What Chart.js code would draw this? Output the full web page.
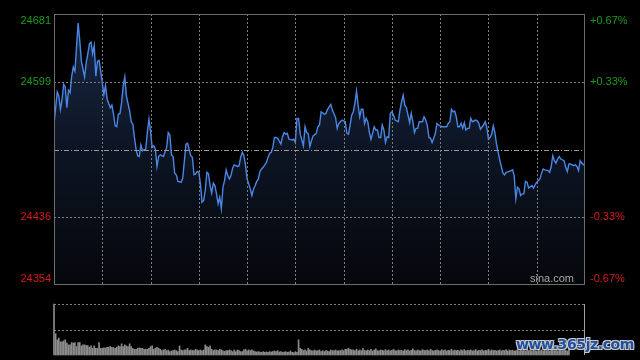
<!DOCTYPE html>
<html lang="zh-CN">
<head>
<meta charset="UTF-8">
<title>恒生指数 分时走势</title>
<style>
  body {
    margin: 0;
    background: #000;
    width: 640px;
    height: 360px;
    overflow: hidden;
    position: relative;
    font-family: Arial, "Liberation Sans", sans-serif;
  }
  #mainChart { position: absolute; left: 0; top: 0; }
  #volChart { position: absolute; left: 0; top: 290px; }
  #mark {
    position: absolute;
    left: 516px;
    top: 336px;
    font: bold 14px "DejaVu Sans", sans-serif;
    color: #1f4f9e;
    letter-spacing: -0.4px;
    white-space: nowrap;
    text-shadow: -1px -1px 0 #c8c8c8, 1px -1px 0 #c8c8c8, -1px 1px 0 #c8c8c8, 1px 1px 0 #c8c8c8;
  }
</style>
<script src="https://cdn.jsdelivr.net/npm/chart.js"></script>
</head>
<body>
<canvas id="mainChart" width="640" height="290"></canvas>
<canvas id="volChart" width="640" height="70"></canvas>
<div id="mark">www.365jz.com</div>

<script>
// minute of the session (0..330) and index level
const minutes = [0,2,3,4,5,6,7,8,9,10,11,12,13,14,15,16,17,19,20,21,22,23,24,25,26,27,28,29,31,32,33,35,36,37,38,39,40,41,42,43,44,45,47,48,49,50,51,52,53,54,55,57,58,59,60,61,62,63,64,65,66,68,70,71,72,73,74,75,76,77,79,80,81,82,83,85,86,87,88,89,90,91,92,93,94,95,96,97,98,99,100,101,102,103,104,105,106,107,108,109,110,111,112,114,115,116,117,118,119,120,122,123,124,125,126,127,128,129,130,132,133,134,135,136,137,138,139,141,142,143,144,145,146,148,149,150,151,152,153,155,156,157,158,159,160,161,163,164,165,166,168,169,170,171,172,173,175,176,177,178,179,181,182,183,184,185,186,187,188,189,190,191,192,193,194,195,196,197,198,199,200,201,202,203,204,205,206,207,208,209,210,211,212,214,215,216,217,218,219,220,221,222,223,224,225,226,227,228,229,230,231,232,233,234,235,236,237,238,239,241,242,244,245,246,247,248,249,250,251,252,253,254,255,256,257,258,259,260,262,263,264,265,267,268,269,270,271,272,273,274,275,276,277,278,279,280,281,283,284,285,286,287,288,289,290,291,292,293,294,295,297,298,299,300,302,303,304,305,307,308,309,310,311,312,313,314,315,317,318,319,320,321,323,324,325,326,327,328,330];
const prices = [24548,24587,24582,24566,24578,24596,24593,24568,24589,24586,24606,24617,24612,24641,24670,24649,24624,24605,24622,24633,24645,24647,24633,24643,24606,24624,24625,24612,24584,24595,24578,24568,24571,24560,24546,24545,24560,24561,24574,24594,24605,24582,24564,24551,24548,24532,24518,24510,24509,24523,24516,24518,24538,24554,24540,24520,24522,24518,24497,24509,24511,24509,24520,24538,24535,24511,24509,24489,24487,24479,24478,24483,24503,24524,24525,24510,24508,24487,24488,24491,24490,24476,24454,24456,24468,24490,24488,24474,24465,24477,24474,24464,24452,24460,24446,24472,24480,24493,24486,24482,24486,24495,24499,24497,24498,24508,24514,24510,24499,24482,24470,24462,24470,24474,24479,24482,24491,24494,24496,24502,24508,24513,24514,24520,24532,24532,24531,24524,24533,24538,24536,24537,24530,24529,24530,24526,24555,24555,24536,24522,24545,24538,24537,24521,24528,24534,24537,24545,24547,24563,24560,24561,24566,24569,24572,24565,24556,24543,24549,24551,24553,24551,24537,24536,24547,24559,24563,24573,24588,24571,24557,24566,24566,24549,24555,24551,24538,24530,24537,24545,24541,24541,24532,24532,24547,24541,24526,24533,24532,24561,24563,24559,24553,24551,24565,24575,24583,24571,24568,24559,24550,24561,24551,24538,24543,24543,24551,24551,24551,24557,24553,24547,24532,24531,24526,24531,24537,24549,24547,24545,24545,24545,24549,24551,24566,24563,24564,24557,24545,24545,24549,24543,24550,24541,24543,24543,24555,24551,24553,24552,24549,24542,24547,24551,24544,24530,24532,24536,24546,24538,24524,24515,24505,24497,24489,24487,24490,24491,24492,24493,24486,24458,24472,24470,24462,24464,24464,24479,24478,24471,24474,24471,24475,24478,24482,24489,24494,24493,24492,24490,24497,24510,24504,24501,24506,24509,24506,24504,24496,24491,24500,24500,24498,24499,24497,24492,24504,24501,24498];

// volume per minute (relative units), minute 0..330
const volume = [151,63,45,50,39,39,42,45,35,30,30,37,35,37,25,37,37,27,30,30,28,28,23,27,20,27,20,20,37,20,20,21,21,23,23,25,23,22,20,23,27,25,33,25,30,27,25,33,25,19,17,17,20,21,20,20,17,17,17,20,25,27,17,20,23,20,17,13,15,17,13,15,10,12,13,15,13,10,27,15,13,15,15,20,13,15,14,13,17,15,13,15,12,15,30,25,23,27,17,13,15,15,13,17,15,12,11,13,13,15,13,10,15,10,15,13,10,10,15,17,12,15,13,15,12,10,9,10,9,8,10,8,9,8,10,9,10,12,10,13,9,10,8,9,10,8,9,12,8,7,10,8,45,20,17,13,15,12,20,15,13,12,15,12,13,15,10,13,10,13,12,10,15,13,13,15,12,13,13,15,13,17,17,20,17,15,
  15,13,17,12,15,13,20,14,12,15,13,17,12,15,18,13,12,15,14,12,16,13,15,12,14,17,13,12,15,13,14,12,16,13,15,12,14,18,13,12,15,13,12,16,14,13,15,12,17,13,12,14,15,13,12,16,13,15,12,14,13,17,12,15,13,14,12,15,13,16,12,14,13,15,12,13,16,12,14,13,15,12,14,13,17,12,15,13,14,12,13,15,12,14,13,16,12,15,13,14,12,13,15,12,14,13,15,12,16,13,14,12,15,13,12,14,13,15,12,14,13,15,12,14,17,13,15,12,14,16,13,15,14,12,18];

const priceTicks = [24681, 24599, 24436, 24354];
const priceLabels = ['24681', '24599', '24436', '24354'];
const pctLabels = ['+0.67%', '+0.33%', '-0.33%', '-0.67%'];
const preClose = 24517.5;
const gridMinutes = [30, 60, 90, 120, 150, 180, 210, 240, 270, 300];

const UP = '#1c9c1c';
const DOWN = '#d61c1c';

function hline(ctx, x1, x2, y) {
  ctx.beginPath(); ctx.moveTo(x1, y); ctx.lineTo(x2, y); ctx.stroke();
}
function vline(ctx, x, y1, y2) {
  ctx.beginPath(); ctx.moveTo(x, y1); ctx.lineTo(x, y2); ctx.stroke();
}

// grid, frame and side labels of the price panel
const mainFrame = {
  id: 'mainFrame',
  afterDatasetsDraw(chart) {
    const { ctx, chartArea: a, scales: { x, y } } = chart;
    ctx.save();
    ctx.lineWidth = 1;
    ctx.strokeStyle = '#808080';
    ctx.setLineDash([2, 2]);
    gridMinutes.forEach(m => {
      const px = Math.round(x.getPixelForValue(m)) + 0.5;
      vline(ctx, px, a.top, a.bottom);
    });
    [priceTicks[1], priceTicks[2]].forEach(v => {
      hline(ctx, a.left, a.right, Math.round(y.getPixelForValue(v)) + 0.5);
    });
    ctx.strokeStyle = '#9a9a9a';
    ctx.setLineDash([5, 2, 1, 2]);
    hline(ctx, a.left, a.right, Math.round(y.getPixelForValue(preClose)) + 0.5);

    ctx.setLineDash([]);
    ctx.strokeStyle = '#6c6c6c';
    ctx.strokeRect(a.left + 0.5, a.top + 0.5, a.right - a.left - 1, a.bottom - a.top - 1);

    ctx.font = '11px Arial, "Liberation Sans", sans-serif';
    ctx.textBaseline = 'middle';
    priceTicks.forEach((v, i) => {
      let py = y.getPixelForValue(v);
      py = Math.min(Math.max(py, a.top + 6.5), a.bottom - 6.5);
      ctx.fillStyle = v > preClose ? UP : DOWN;
      ctx.textAlign = 'right';
      ctx.fillText(priceLabels[i], a.left - 3, py);
      ctx.textAlign = 'left';
      ctx.fillText(pctLabels[i], a.right + 5, py);
    });

    ctx.fillStyle = '#a8a8a8';
    ctx.textAlign = 'right';
    ctx.fillText('sina.com', a.right - 11, a.bottom - 6);
    ctx.restore();
  }
};

new Chart(document.getElementById('mainChart'), {
  type: 'line',
  data: {
    datasets: [{
      data: minutes.map((m, i) => ({ x: m, y: prices[i] })),
      borderColor: '#4a86e6',
      borderWidth: 1.4,
      pointRadius: 0,
      tension: 0,
      fill: 'start',
      backgroundColor: (c) => {
        const a = c.chart.chartArea;
        if (!a) return 'rgba(20,34,58,1)';
        const g = c.chart.ctx.createLinearGradient(0, a.top, 0, a.bottom);
        g.addColorStop(0, 'rgb(24,40,70)');
        g.addColorStop(0.5, 'rgb(13,21,36)');
        g.addColorStop(1, 'rgb(5,7,11)');
        return g;
      }
    }]
  },
  options: {
    responsive: false,
    animation: false,
    devicePixelRatio: 1,
    layout: { padding: { left: 54, right: 55, top: 14, bottom: 5 } },
    scales: {
      x: { type: 'linear', min: 0, max: 330, display: false },
      y: { min: priceTicks[3], max: priceTicks[0], display: false }
    },
    plugins: { legend: { display: false }, tooltip: { enabled: false } }
  },
  plugins: [mainFrame]
});

// grid of the volume panel
const volFrame = {
  id: 'volFrame',
  afterDatasetsDraw(chart) {
    const { ctx, chartArea: a, scales: { y } } = chart;
    ctx.save();
    ctx.lineWidth = 1;
    ctx.strokeStyle = '#808080';
    ctx.setLineDash([2, 2]);
    hline(ctx, a.left, a.right, a.top + 0.5);
    hline(ctx, a.left, a.right, Math.round(y.getPixelForValue(volume[0] / 2)) + 0.5);
    ctx.setLineDash([]);
    ctx.strokeStyle = '#a0a0a0';
    vline(ctx, a.right - 0.5, a.top, a.bottom);
    ctx.restore();
  }
};

new Chart(document.getElementById('volChart'), {
  type: 'bar',
  data: {
    datasets: [{
      data: volume.map((v, i) => ({ x: i, y: v })),
      backgroundColor: '#8c8c8c',
      barThickness: 1,
      clip: false
    }]
  },
  options: {
    responsive: false,
    animation: false,
    devicePixelRatio: 1,
    layout: { padding: { left: 54, right: 55, top: 14, bottom: 5 } },
    scales: {
      x: { type: 'linear', min: 0, max: 330, offset: false, display: false },
      y: { min: 0, max: volume[0], display: false }
    },
    plugins: { legend: { display: false }, tooltip: { enabled: false } }
  },
  plugins: [volFrame]
});
</script>
</body>
</html>
